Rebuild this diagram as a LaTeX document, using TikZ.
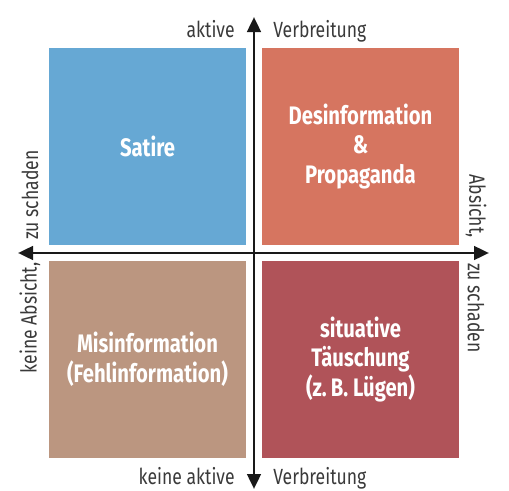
\documentclass[tikz,border=0pt]{standalone}
\usepackage{fontspec}
\setmainfont{Fira Sans}[FakeStretch=0.8]
\usepackage{tikz}
\usetikzlibrary{positioning,calc,arrows.meta}

\definecolor{satblue}{RGB}{102,168,212}
\definecolor{desred}{RGB}{214,117,96}
\definecolor{misbrown}{RGB}{187,150,128}
\definecolor{taured}{RGB}{176,83,89}
\definecolor{axgrey}{RGB}{58,58,58}

\begin{document}
\begin{tikzpicture}
        \tikzstyle{quad}=[rectangle, inner sep=0pt, minimum width=3.94cm, minimum height=3.94cm,
                text=white, align=center, font=\fontsize{14.4}{17}\selectfont\bfseries]
        \tikzstyle{axis}=[line width=1.7pt, black!90, {Triangle[length=0.3cm, width=0.27cm]}-{Triangle[length=0.3cm, width=0.27cm]}]
        \tikzstyle{lab}=[inner sep=0pt, text=axgrey, font=\fontsize{12.5}{15}\selectfont]

        \useasboundingbox (0,0) rectangle (10.18,9.8);

        % the four fields
        \node[quad, fill=satblue]  (sat) at (2.95,6.87) {Satire};
        \node[quad, fill=desred]   (des) at (7.21,6.87) {Desinformation\\\&\\Propaganda};
        \node[quad, fill=misbrown] (mis) at (2.95,2.61) {Misinformation\\(Fehlinformation)};
        \node[quad, fill=taured]   (tau) at (7.21,2.61) {situative\\Täuschung\\(z.\,B. Lügen)};

        % axes
        \coordinate (top) at (5.08,9.46);
        \coordinate (bot) at (5.08,0.02);
        \coordinate (lft) at (0.36,4.74);
        \coordinate (rgt) at (9.78,4.74);
        \draw[axis] (bot) -- (top);
        \draw[axis] (lft) -- (rgt);

        % axis labels
        \node[lab, anchor=base east] (akt)  at (4.7,9.05)  {aktive};
        \node[lab, anchor=base west] (verb) at (5.46,9.05) {Verbreitung};
        \node[lab, anchor=base east] (kakt)  at (4.7,0.12)  {keine aktive};
        \node[lab, anchor=base west] (kverb) at (5.46,0.12) {Verbreitung};

        \node[lab, rotate=90, anchor=east]  (kabs) at (0.6,4.56) {keine Absicht,};
        \node[lab, rotate=90, anchor=west]  (kzu)  at (0.6,5.0)  {zu schaden};
        \node[lab, rotate=-90, anchor=east] (abs)  at (9.52,5.04) {Absicht,};
        \node[lab, rotate=-90, anchor=west] (zu)   at (9.52,4.54) {zu schaden};
    \end{tikzpicture}
\end{document}
